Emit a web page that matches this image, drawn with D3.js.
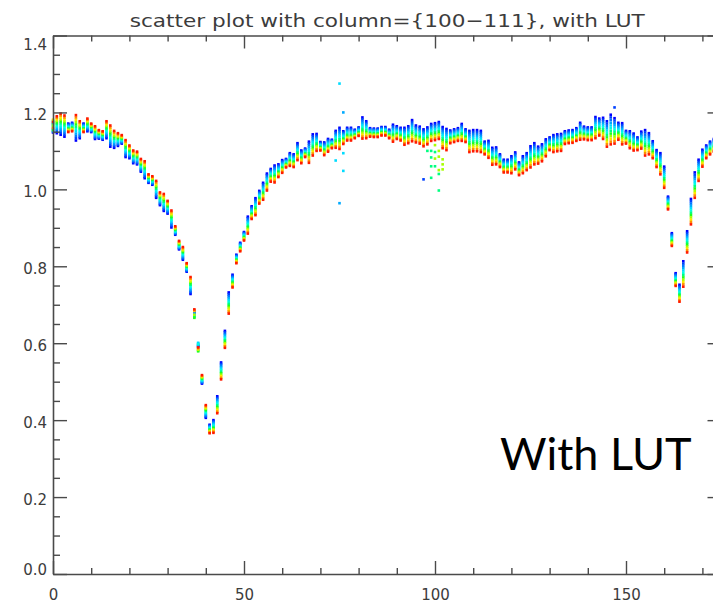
<!DOCTYPE html>
<html>
<head>
<meta charset="utf-8">
<script src="https://cdn.jsdelivr.net/npm/d3@7/dist/d3.min.js"></script>
<style>
  body { margin: 0; background: #ffffff; }
  svg { display: block; }
</style>
</head>
<body>
<div id="chart"></div>
<script>
// Data: one value per row index (0..173) for each column, in thousandths
const col100 = [1148,1146,1142,1137,1171,1173,1127,1133,1171,1151,1149,1131,1132,1129,1133,1111,1108,1113,1119,1084,1081,1068,1065,1046,1029,1017,1012,978,959,944,937,901,882,844,817,786,728,682,591,495,406,
  388,400,462,550,632,732,778,830,861,889,929,956,977,996,1017,1041,1053,1062,1065,1076,1079,1094,1091,1120,1101,1106,1124,1143,1144,1123,
  1122,1131,1129,1152,1160,1151,1160,1160,1155,1161,1187,1177,1159,1158,1158,1162,1162,1155,1168,1164,1160,1160,1164,1180,1166,1163,1156,1161,1170,1172,
  1175,1162,1157,1153,1156,1159,1170,1156,1152,1154,1154,1152,1124,1126,1108,1109,1091,1077,1077,1086,1096,1070,1086,1094,1112,1120,1111,1117,1130,1135,
  1141,1143,1144,1151,1153,1154,1159,1173,1163,1161,1161,1188,1184,1186,1177,1194,1185,1173,1172,1152,1151,1145,1135,1150,1154,1146,1125,1102,1094,1059,
  981,886,782,752,813,891,975,1044,1077,1103,1114,1124,1131];
const col101 = [1157,1150,1147,1142,1169,1171,1133,1137,1169,1154,1151,1134,1134,1131,1137,1116,1112,1116,1121,1088,1084,1071,1068,1049,1033,1019,1014,982,962,948,940,905,884,846,820,788,732,680,593,497,409,
  386,397,458,546,628,727,775,828,859,887,925,953,973,993,1013,1037,1050,1058,1062,1073,1077,1091,1088,1116,1098,1104,1119,1138,1140,1121,
  1119,1128,1127,1148,1155,1148,1157,1157,1153,1159,1182,1173,1157,1156,1156,1160,1160,1153,1164,1161,1157,1156,1160,1175,1162,1159,1152,1157,1166,1168,
  1171,1157,1152,1150,1153,1156,1166,1153,1147,1149,1149,1147,1121,1122,1104,1105,1088,1074,1074,1082,1092,1067,1082,1090,1107,1115,1107,1113,1126,1132,
  1137,1139,1140,1148,1150,1151,1156,1169,1160,1158,1158,1183,1180,1181,1171,1187,1179,1169,1167,1149,1147,1141,1132,1146,1148,1141,1121,1098,1089,1054,
  978,883,779,748,807,886,969,1038,1072,1099,1111,1121,1128];
const col102 = [1169,1154,1152,1147,1167,1169,1139,1141,1167,1157,1153,1137,1136,1133,1141,1121,1116,1119,1123,1092,1087,1074,1071,1052,1037,1021,1016,986,965,952,943,909,886,848,823,790,736,678,595,499,412,
  384,394,454,542,624,722,772,826,857,885,921,950,969,990,1009,1033,1047,1054,1059,1070,1075,1088,1085,1112,1095,1102,1114,1133,1136,1119,
  1116,1125,1125,1144,1150,1145,1154,1154,1151,1157,1177,1169,1155,1154,1154,1158,1158,1151,1160,1158,1154,1152,1156,1170,1158,1155,1148,1153,1162,1164,
  1167,1152,1147,1147,1150,1153,1162,1150,1142,1144,1144,1142,1118,1118,1100,1101,1085,1071,1071,1078,1088,1064,1078,1086,1102,1110,1103,1109,1122,1129,
  1133,1135,1136,1145,1147,1148,1153,1165,1157,1155,1155,1178,1176,1176,1165,1180,1173,1165,1162,1146,1143,1137,1129,1142,1142,1136,1117,1094,1084,1049,
  975,880,776,744,801,881,963,1032,1067,1095,1108,1118,1125];
const col103 = [1151,1158,1157,1152,1165,1167,1145,1145,1165,1160,1155,1140,1138,1135,1145,1126,1120,1122,1125,1096,1090,1077,1074,1055,1041,1023,1018,990,968,956,946,913,888,850,826,792,740,676,599,501,415,
  382,391,450,538,620,717,769,824,855,883,917,947,965,987,1005,1029,1044,1050,1056,1067,1073,1085,1082,1108,1092,1100,1109,1128,1132,1117,
  1113,1122,1123,1140,1145,1142,1151,1151,1149,1155,1172,1165,1153,1152,1152,1156,1156,1149,1156,1155,1151,1148,1152,1165,1154,1151,1144,1149,1158,1160,
  1163,1147,1142,1144,1147,1150,1158,1147,1137,1139,1139,1137,1115,1114,1096,1097,1082,1068,1068,1074,1084,1061,1074,1082,1097,1105,1099,1105,1118,1126,
  1129,1131,1132,1142,1144,1145,1150,1161,1154,1152,1152,1173,1172,1171,1159,1173,1167,1161,1157,1143,1139,1133,1126,1138,1136,1131,1113,1090,1079,1044,
  972,877,773,740,795,876,957,1026,1062,1091,1105,1115,1122];
const col104 = [1178,1162,1162,1157,1163,1165,1151,1149,1163,1163,1157,1143,1140,1137,1149,1131,1124,1125,1127,1100,1093,1080,1077,1058,1045,1025,1020,994,971,960,949,917,890,852,829,794,744,672,601,503,418,
  380,388,446,534,616,712,766,822,853,881,913,944,961,984,1001,1025,1041,1046,1053,1064,1071,1082,1079,1104,1089,1098,1104,1123,1128,1115,
  1110,1119,1121,1136,1140,1139,1148,1148,1147,1153,1167,1161,1151,1150,1150,1154,1154,1147,1152,1152,1148,1144,1148,1160,1150,1147,1140,1145,1154,1156,
  1159,1142,1137,1141,1144,1147,1154,1144,1132,1134,1134,1132,1112,1110,1092,1093,1079,1065,1065,1070,1080,1058,1070,1078,1092,1100,1095,1101,1114,1123,
  1125,1127,1128,1139,1141,1142,1147,1157,1151,1149,1149,1168,1168,1166,1153,1166,1161,1157,1152,1140,1135,1129,1123,1134,1130,1126,1109,1086,1074,1039,
  969,874,770,736,789,871,951,1020,1057,1087,1102,1112,1119];
const col105 = [1163,1166,1167,1162,1161,1163,1157,1153,1161,1166,1159,1146,1142,1139,1153,1136,1128,1128,1129,1104,1096,1083,1080,1061,1049,1027,1022,998,974,964,952,921,892,854,832,796,748,670,597,505,421,
  378,385,442,530,612,707,763,820,851,879,909,941,957,981,997,1021,1038,1042,1050,1061,1069,1079,1076,1100,1086,1096,1099,1118,1124,1113,
  1107,1116,1119,1132,1135,1136,1145,1145,1145,1151,1162,1157,1149,1148,1148,1152,1152,1145,1148,1149,1145,1140,1144,1155,1146,1143,1136,1141,1150,1152,
  1155,1137,1132,1138,1141,1144,1150,1141,1127,1129,1129,1127,1109,1106,1088,1089,1076,1062,1062,1066,1076,1055,1066,1074,1087,1095,1091,1097,1110,1120,
  1121,1123,1124,1136,1138,1139,1144,1153,1148,1146,1146,1163,1164,1161,1147,1159,1155,1153,1147,1137,1131,1125,1120,1130,1124,1121,1105,1082,1069,1034,
  966,871,767,732,783,866,945,1014,1052,1083,1099,1109,1116];
const col106 = [1172,1170,1172,1167,1159,1161,1163,1157,1159,1169,1161,1149,1144,1141,1157,1141,1132,1131,1131,1108,1099,1086,1083,1064,1053,1029,1024,1002,977,968,955,925,894,856,835,798,752,668,581,507,424,
  376,382,438,526,608,702,760,818,849,877,905,938,953,978,993,1017,1035,1038,1047,1058,1067,1076,1073,1096,1083,1094,1094,1113,1120,1111,
  1104,1113,1117,1128,1130,1133,1142,1142,1143,1149,1157,1153,1147,1146,1146,1150,1150,1143,1144,1146,1142,1136,1140,1150,1142,1139,1132,1137,1146,1148,
  1151,1132,1127,1135,1138,1141,1146,1138,1122,1124,1124,1122,1106,1102,1084,1085,1073,1059,1059,1062,1072,1052,1062,1070,1082,1090,1087,1093,1106,1117,
  1117,1119,1120,1133,1135,1136,1141,1149,1145,1143,1143,1158,1160,1156,1141,1152,1149,1149,1142,1134,1127,1121,1117,1126,1118,1116,1101,1078,1064,1029,
  963,868,764,728,777,861,939,1008,1047,1079,1096,1106,1113];
const col107 = [1154,1174,1177,1172,1157,1159,1169,1161,1157,1172,1163,1152,1146,1143,1161,1146,1136,1134,1133,1112,1102,1089,1086,1067,1057,1031,1026,1006,980,972,958,929,896,858,838,800,756,666,579,509,427,
  374,379,434,522,604,697,757,816,847,875,901,935,949,975,989,1013,1032,1034,1044,1055,1065,1073,1070,1092,1080,1092,1089,1108,1116,1109,
  1101,1110,1115,1124,1125,1130,1139,1139,1141,1147,1152,1149,1145,1144,1144,1148,1148,1141,1140,1143,1139,1132,1136,1145,1138,1135,1128,1133,1142,1144,
  1147,1127,1122,1132,1135,1138,1142,1135,1117,1119,1119,1117,1103,1098,1080,1081,1070,1056,1056,1058,1068,1049,1058,1066,1077,1085,1083,1089,1102,1114,
  1113,1115,1116,1130,1132,1133,1138,1145,1142,1140,1140,1153,1156,1151,1135,1145,1143,1145,1137,1131,1123,1117,1114,1122,1112,1111,1097,1074,1059,1024,
  960,865,761,724,771,856,933,1002,1042,1075,1093,1103,1110];
const col108 = [1166,1178,1182,1177,1155,1157,1175,1165,1155,1175,1165,1155,1148,1145,1165,1151,1140,1137,1135,1116,1105,1092,1089,1070,1061,1033,1028,1010,983,976,961,933,898,860,841,802,760,674,583,511,430,
  372,376,430,518,600,692,754,814,845,873,897,932,945,972,985,1009,1029,1030,1041,1052,1063,1070,1067,1088,1077,1090,1084,1103,1112,1107,
  1098,1107,1113,1120,1120,1127,1136,1136,1139,1145,1147,1145,1143,1142,1142,1146,1146,1139,1136,1140,1136,1128,1132,1140,1134,1131,1124,1129,1138,1140,
  1143,1122,1117,1129,1132,1135,1138,1132,1112,1114,1114,1112,1100,1094,1076,1077,1067,1053,1053,1054,1064,1046,1054,1062,1072,1080,1079,1085,1098,1111,
  1109,1111,1112,1127,1129,1130,1135,1141,1139,1137,1137,1148,1152,1146,1129,1138,1137,1141,1132,1128,1119,1113,1111,1118,1106,1106,1093,1070,1054,1019,
  957,862,758,720,765,851,927,996,1037,1071,1090,1100,1107];
const col109 = [1181,1182,1187,1182,1153,1155,1181,1169,1153,1178,1167,1158,1150,1147,1169,1156,1144,1140,1137,1120,1108,1095,1092,1073,1065,1035,1030,1014,986,980,964,937,900,862,844,804,764,684,585,513,433,
  370,373,426,514,596,687,751,812,843,871,893,929,941,969,981,1005,1026,1026,1038,1049,1061,1067,1064,1084,1074,1088,1079,1098,1108,1105,
  1095,1104,1111,1116,1115,1124,1133,1133,1137,1143,1142,1141,1141,1140,1140,1144,1144,1137,1132,1137,1133,1124,1128,1135,1130,1127,1120,1125,1134,1136,
  1139,1117,1112,1126,1129,1132,1134,1129,1107,1109,1109,1107,1097,1090,1072,1073,1064,1050,1050,1050,1060,1043,1050,1058,1067,1075,1075,1081,1094,1108,
  1105,1107,1108,1124,1126,1127,1132,1137,1136,1134,1134,1143,1148,1141,1123,1131,1131,1137,1127,1125,1115,1109,1108,1114,1100,1101,1089,1066,1049,1014,
  954,859,755,716,759,846,921,990,1032,1067,1087,1097,1104];
const col110 = [1160,1186,1192,1187,1151,1153,1187,1173,1151,1181,1169,1161,1152,1149,1173,1161,1148,1143,1139,1124,1111,1098,1095,1076,1069,1037,1032,1018,989,984,967,941,902,864,847,806,768,686,587,515,436,
  368,370,422,510,592,682,748,810,841,869,889,926,937,966,977,1001,1023,1022,1035,1046,1059,1064,1061,1080,1071,1086,1074,1093,1104,1103,
  1092,1101,1109,1112,1110,1121,1130,1130,1135,1141,1137,1137,1139,1138,1138,1142,1142,1135,1128,1134,1130,1120,1124,1130,1126,1123,1116,1121,1130,1132,
  1135,1112,1107,1123,1126,1129,1130,1126,1102,1104,1104,1102,1094,1086,1068,1069,1061,1047,1047,1046,1056,1040,1046,1054,1062,1070,1071,1077,1090,1105,
  1101,1103,1104,1121,1123,1124,1129,1133,1133,1131,1131,1138,1144,1136,1117,1124,1125,1133,1122,1122,1111,1105,1105,1110,1094,1096,1085,1062,1044,1009,
  951,856,752,712,753,841,915,984,1027,1063,1084,1094,1101];
const col111 = [1175,1190,1197,1192,1149,1151,1193,1177,1149,1184,1171,1164,1154,1151,1177,1166,1152,1146,1141,1128,1114,1101,1098,1079,1073,1039,1034,1022,992,988,970,945,904,866,850,808,772,688,589,517,439,
  366,367,418,506,588,677,745,808,839,867,885,923,933,963,973,997,1020,1018,1032,1043,1057,1061,1058,1076,1068,1084,1069,1088,1100,1101,
  1089,1098,1107,1108,1105,1118,1127,1127,1133,1139,1132,1133,1137,1136,1136,1140,1140,1133,1124,1131,1127,1116,1120,1125,1122,1119,1112,1117,1126,1128,
  1131,1107,1102,1120,1123,1126,1126,1123,1097,1099,1099,1097,1091,1082,1064,1065,1058,1044,1044,1042,1052,1037,1042,1050,1057,1065,1067,1073,1086,1102,
  1097,1099,1100,1118,1120,1121,1126,1129,1130,1128,1128,1133,1140,1131,1111,1117,1119,1129,1117,1119,1107,1101,1102,1106,1088,1091,1081,1058,1039,1004,
  948,853,749,708,747,836,909,978,1022,1059,1081,1091,1098];

// Stray points off the main band (row, value, column index)
const extraX = [74,75,75,76,76,76,97,98,99,99,99,99,100,100,100,100,101,101,101,101,101,102,102,102,147];
const extraV = [1075,1275,964,1200,1094,1048,1026,1100,1100,1083,1060,1030,1115,1097,1080,1060,1100,1085,1050,1040,997,1078,1065,1052,1213];
const extraCol = [4,4,3,3,4,4,1,6,6,6,6,6,8,6,8,6,8,8,8,6,6,8,8,8,1];

// Colour table (LUT) for columns 100..111
const lutColors = ['#0000ff','#0040ff','#0078ff','#00aaff','#00dcff','#00ffe0',
                   '#00ff80','#20ff20','#a8ff00','#ffe600','#ff8c00','#ff1a00'];

// Ticks
const xMajorTicks = [0, 50, 100, 150];
const xMinorTicks = [10, 20, 30, 40, 60, 70, 80, 90, 110, 120, 130, 140, 160, 170];
const yMajorTicks = [0, 0.2, 0.4, 0.6, 0.8, 1.0, 1.2, 1.4];
const yMinorTicks = [0.05, 0.1, 0.15, 0.25, 0.3, 0.35, 0.45, 0.5, 0.55, 0.65, 0.7, 0.75,
                     0.85, 0.9, 0.95, 1.05, 1.1, 1.15, 1.25, 1.3, 1.35];

const columns = [col100, col101, col102, col103, col104, col105,
                 col106, col107, col108, col109, col110, col111];

const titleText = 'scatter plot with column={100\u2212111}, with LUT';

// Chart size
const width = 713;
const height = 607;
const axisColor = '#4a4a4a';
const labelFont = 'DejaVu Sans, Verdana, sans-serif';
const dot = 2.6;

const svg = d3.select('#chart').append('svg')
  .attr('width', width)
  .attr('height', height);

svg.append('rect').attr('width', width).attr('height', height).attr('fill', '#ffffff');

// Scales
const x = d3.scaleLinear().domain([0, 175]).range([53, 721.5]);
const y = d3.scaleLinear().domain([0, 1.4]).range([574, 35.5]);

// Points first, axes over them
const plot = svg.append('g');
columns.forEach((col, k) => {
  plot.append('g')
    .attr('fill', lutColors[k])
    .selectAll('rect')
    .data(col)
    .enter().append('rect')
    .attr('x', (d, i) => x(i) - dot / 2)
    .attr('y', d => y(d / 1000) - dot / 2)
    .attr('width', dot)
    .attr('height', dot);
});

plot.append('g')
  .selectAll('rect')
  .data(extraX)
  .enter().append('rect')
  .attr('x', d => x(d) - dot / 2)
  .attr('y', (d, i) => y(extraV[i] / 1000) - dot / 2)
  .attr('width', dot)
  .attr('height', dot)
  .attr('fill', (d, i) => lutColors[extraCol[i]]);

function styleAxis(g) {
  g.attr('font-family', labelFont).attr('font-size', 15);
  g.selectAll('.domain').attr('stroke', axisColor).attr('stroke-width', 1.6);
  g.selectAll('.tick line').attr('stroke', axisColor).attr('stroke-width', 1.4);
  g.selectAll('.tick text').attr('fill', '#3c3c3c');
}

function noDomain(g) {
  g.select('.domain').remove();
}

// Bottom axis
svg.append('g')
  .attr('transform', 'translate(0,' + y(0) + ')')
  .call(d3.axisBottom(x).tickValues(xMajorTicks).tickSize(-13).tickSizeOuter(0)
    .tickPadding(15).tickFormat(d3.format('d')))
  .call(styleAxis);
svg.append('g')
  .attr('transform', 'translate(0,' + y(0) + ')')
  .call(d3.axisBottom(x).tickValues(xMinorTicks).tickSize(-6).tickFormat(''))
  .call(noDomain).call(styleAxis);

// Top axis
svg.append('g')
  .attr('transform', 'translate(0,' + y(1.4) + ')')
  .call(d3.axisTop(x).tickValues(xMajorTicks).tickSize(-13).tickSizeOuter(0).tickFormat(''))
  .call(styleAxis);
svg.append('g')
  .attr('transform', 'translate(0,' + y(1.4) + ')')
  .call(d3.axisTop(x).tickValues(xMinorTicks).tickSize(-6).tickFormat(''))
  .call(noDomain).call(styleAxis);

// Left axis
const leftAxis = svg.append('g')
  .attr('transform', 'translate(' + x(0) + ',0)')
  .call(d3.axisLeft(y).tickValues(yMajorTicks).tickSize(-14).tickSizeOuter(0)
    .tickPadding(6).tickFormat(d3.format('.1f')))
  .call(styleAxis);
leftAxis.selectAll('.tick text')
  .attr('dy', d => d === 0 ? '0em' : (d === 1.4 ? '0.93em' : '0.47em'));
svg.append('g')
  .attr('transform', 'translate(' + x(0) + ',0)')
  .call(d3.axisLeft(y).tickValues(yMinorTicks).tickSize(-7).tickFormat(''))
  .call(noDomain).call(styleAxis);

// Right axis
svg.append('g')
  .attr('transform', 'translate(' + x(175) + ',0)')
  .call(d3.axisRight(y).tickValues(yMajorTicks).tickSize(-14).tickSizeOuter(0).tickFormat(''))
  .call(styleAxis);
svg.append('g')
  .attr('transform', 'translate(' + x(175) + ',0)')
  .call(d3.axisRight(y).tickValues(yMinorTicks).tickSize(-7).tickFormat(''))
  .call(noDomain).call(styleAxis);

// Title
svg.append('text')
  .attr('x', (x(0) + x(175)) / 2)
  .attr('y', 27)
  .attr('text-anchor', 'middle')
  .attr('font-family', labelFont)
  .attr('font-size', 18)
  .attr('textLength', 515)
  .attr('lengthAdjust', 'spacingAndGlyphs')
  .attr('fill', '#3c3c3c')
  .text(titleText);

// Annotation
svg.append('text')
  .attr('x', 500)
  .attr('y', 470)
  .attr('font-family', 'Lato, Open Sans, sans-serif')
  .attr('font-size', 45)
  .attr('fill', '#000000')
  .text('With LUT');
</script>
</body>
</html>
